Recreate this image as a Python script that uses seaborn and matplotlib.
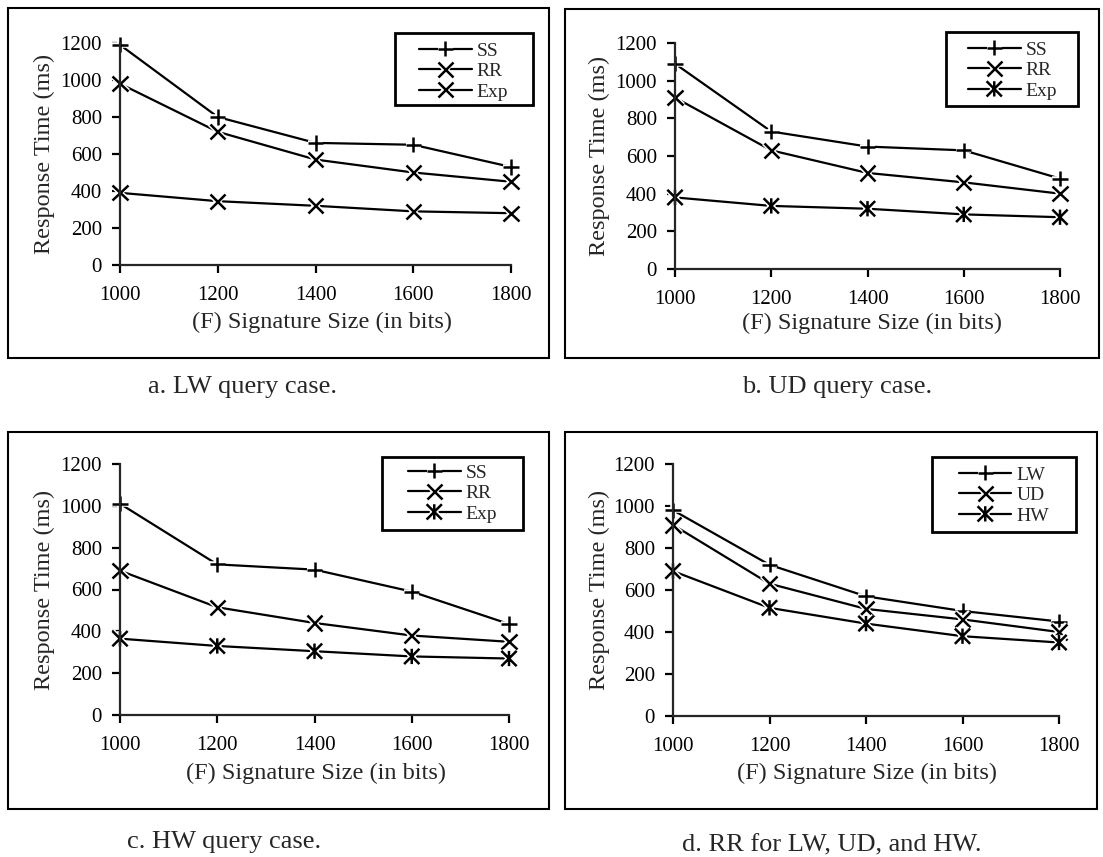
import matplotlib
matplotlib.use("Agg")
import matplotlib.pyplot as plt
import matplotlib.patheffects as pe
from matplotlib.markers import MarkerStyle
from matplotlib.patches import Rectangle
from matplotlib.path import Path
import seaborn as sns
import pandas as pd

# signature sizes (bits)
sizes = [1000, 1200, 1400, 1600, 1800]

# a. LW query case
lw_ss = [1190, 800, 660, 650, 530]
lw_rr = [980, 720, 570, 500, 450]
lw_exp = [390, 345, 320, 290, 280]

# b. UD query case
ud_ss = [1090, 730, 650, 630, 480]
ud_rr = [910, 630, 510, 460, 400]
ud_exp = [380, 335, 320, 290, 275]

# c. HW query case
hw_ss = [1010, 720, 695, 590, 435]
hw_rr = [690, 515, 440, 380, 350]
hw_exp = [365, 330, 305, 280, 270]

method_names = ["SS", "RR", "Exp"]
query_names = ["LW", "UD", "HW"]
captions = ["a. LW query case.", "b. UD query case.",
            "c. HW query case.", "d. RR for LW, UD, and HW."]
yticks = [0, 200, 400, 600, 800, 1000, 1200]

W, H = 1103, 857


def fx(px):
    return px / W


def fy(py):
    return 1 - py / H


def long_df(names, series):
    rows = []
    for name, vals in zip(names, series):
        for x, y in zip(sizes, vals):
            rows.append({"size": x, "time": y, "series": name})
    return pd.DataFrame(rows)


# asterisk marker (x with a vertical bar), line art only
asterisk = MarkerStyle(Path([(0, -1), (0, 1), (-1, -1), (1, 1), (-1, 1), (1, -1)],
                            [Path.MOVETO, Path.LINETO] * 3), fillstyle="none")

panels = [
    dict(names=method_names, series=[lw_ss, lw_rr, lw_exp], markers=["+", "x", "x"],
         box=(8, 8, 549, 358), axes=(120, 43, 511, 265), leg_box=(395, 33, 533, 105),
         leg_at=(419, 42), caption=(242, 387), xlabel=(322, 322), ylabel_x=44),
    dict(names=method_names, series=[ud_ss, ud_rr, ud_exp], markers=["+", "x", asterisk],
         box=(565, 9, 1099, 358), axes=(675, 43, 1060, 269), leg_box=(946, 32, 1078, 106),
         leg_at=(968, 41), caption=(837, 387), xlabel=(872, 323), ylabel_x=599),
    dict(names=method_names, series=[hw_ss, hw_rr, hw_exp], markers=["+", "x", asterisk],
         box=(8, 432, 549, 809), axes=(120, 464, 509, 715), leg_box=(382, 457, 523, 530),
         leg_at=(408, 464), caption=(224, 842), xlabel=(316, 773), ylabel_x=44),
    dict(names=query_names, series=[lw_rr, ud_rr, hw_rr], markers=["+", "x", asterisk],
         box=(565, 432, 1097, 809), axes=(673, 464, 1059, 716), leg_box=(932, 457, 1076, 532),
         leg_at=(959, 466), caption=(832, 845), xlabel=(867, 773), ylabel_x=599),
]

sns.set_style("ticks")
plt.rcParams["font.family"] = ["Liberation Serif", "DejaVu Serif"]
plt.rcParams["axes.linewidth"] = 1.6

fig = plt.figure(figsize=(W / 100, H / 100), dpi=100)
halo = [pe.Stroke(linewidth=4, foreground="white"), pe.Normal()]

for i, p in enumerate(panels):
    bx0, by0, bx1, by1 = p["box"]
    fig.add_artist(Rectangle((fx(bx0), fy(by1)), fx(bx1 - bx0), (by1 - by0) / H,
                             transform=fig.transFigure, fill=False, lw=1.5, ec="black"))

    x0, y0, x1, y1 = p["axes"]
    ax = fig.add_axes([fx(x0), fy(y1), (x1 - x0) / W, (y1 - y0) / H])
    df = long_df(p["names"], p["series"])
    sns.lineplot(data=df, x="size", y="time", hue="series", style="series",
                 markers=p["markers"], dashes=False, palette=["black"] * 3,
                 legend=False, ax=ax, linewidth=1.6, markersize=11,
                 markeredgewidth=1.8, markeredgecolor="black", clip_on=False,
                 path_effects=halo)

    ax.set_xlim(1000, 1800)
    ax.set_ylim(0, 1200)
    ax.set_xticks(sizes)
    ax.set_yticks(yticks)
    sns.despine(ax=ax)
    ax.tick_params(direction="out", length=6, width=1.6, labelsize=15, colors="black")
    ax.tick_params(axis="y", pad=7)
    ax.tick_params(axis="x", pad=9)

    ax.set_xlabel("(F) Signature Size (in bits)", fontsize=17.5, va="center")
    ax.set_ylabel("Response Time (ms)", fontsize=17.5, va="center")
    ax.xaxis.set_label_coords(fx(p["xlabel"][0]), fy(p["xlabel"][1]), transform=fig.transFigure)
    ax.yaxis.set_label_coords(fx(p["ylabel_x"]), fy((y0 + y1) / 2), transform=fig.transFigure)

    lx0, ly0, lx1, ly1 = p["leg_box"]
    fig.add_artist(Rectangle((fx(lx0), fy(ly1)), fx(lx1 - lx0), (ly1 - ly0) / H,
                             transform=fig.transFigure, fill=False, lw=2, ec="black"))
    ax.legend(ax.get_lines()[:3], p["names"], loc="upper left",
              bbox_to_anchor=(fx(p["leg_at"][0]), fy(p["leg_at"][1])),
              bbox_transform=fig.transFigure, frameon=False, fontsize=14,
              borderpad=0, borderaxespad=0, handlelength=2.7, handletextpad=0.25,
              labelspacing=0.15)

    fig.text(fx(p["caption"][0]), fy(p["caption"][1]), captions[i],
             ha="center", va="center", fontsize=19)

fig.savefig("out.png", dpi=100)
